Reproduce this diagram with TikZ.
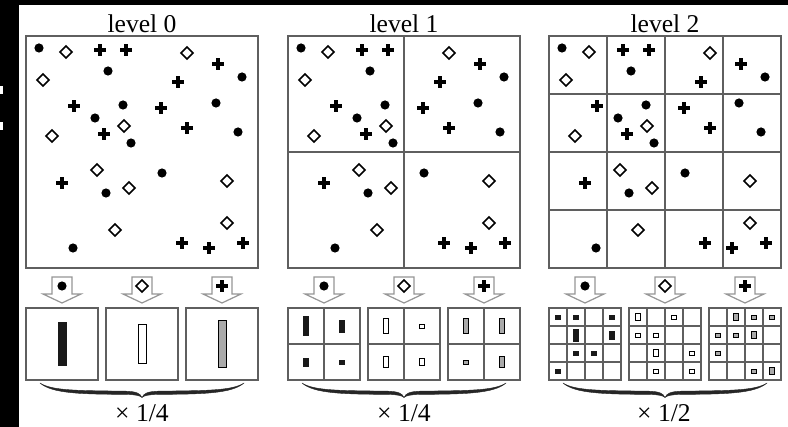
\documentclass[tikz,border=0pt]{standalone}
\usepackage{fontspec}
\setmainfont{Liberation Serif}
\definecolor{framegray}{RGB}{95,95,95}
\definecolor{bargray}{RGB}{170,170,170}
\definecolor{arrowgray}{RGB}{150,150,150}

% point sets, measured from the top-left corner of a level box
\def\dotpts{13/12,82/35,216/41,97/69,69/82,190/67,212/96,105/107,136/137,80/157,47/212}
\def\diapts{40/16,161/17,17/44,98/90,26/100,71/134,103/152,201/145,201/187,89/194}
\def\pluspts{74/14,100/14,192/28,152/46,48/70,135/72,161/92,78/98,36/147,156/207,183/212,217/207}

\tikzset{
  dotpt/.pic={\fill[black] (0,0) circle (2.3pt);},
  diapt/.pic={\draw[black,line width=0.75pt] (-3pt,0)--(0,3pt)--(3pt,0)--(0,-3pt)--cycle;},
  pluspt/.pic={\draw[black,line width=1.55pt] (-2.9pt,0)--(2.9pt,0) (0,-2.9pt)--(0,2.9pt);},
  frame/.style={draw=framegray,line width=0.6pt},
  dotbar/.style={draw=black!90,fill=black!90,line width=0.3pt},
  diabar/.style={draw=black,fill=white,line width=0.4pt},
  plusbar/.style={draw=black,fill=bargray,line width=0.4pt},
  blockarrow/.style={draw=arrowgray,fill=white,line width=0.6pt,line join=miter},
  levelbrace/.style={fill=black!85,draw=black!85,line width=0.2pt},
  title/.style={font=\fontsize{12.8}{15}\selectfont,anchor=base,inner sep=0pt}
}

% box with k x k cells: left, top, size, k, style
\newcommand\gridbox[5]{%
  \path[#5] (#1,#2) rectangle ++(#3,#3);
  \ifnum#4>1
    \pgfmathtruncatemacro\glast{#4-1}
    \foreach \g in {1,...,\glast}{
      \path[#5] ({#1+\g*#3/#4},#2) -- ++(0,#3);
      \path[#5] (#1,{#2+\g*#3/#4}) -- ++(#3,0);
    }
  \fi
}
% bars of a histogram box: left, k, bar width, style, counts (row by row)
\newcommand\histbars[5]{%
  \foreach \n [count=\i from 0] in {#5}{
    \pgfmathtruncatemacro\hcol{mod(\i,#2)}
    \pgfmathtruncatemacro\hrow{div(\i,#2)}
    \ifnum\n>0
      \path[#4] ({#1+(\hcol+0.5)*72/#2-#3/2},{308+(\hrow+0.5)*72/#2-1.95*\n}) rectangle ++(#3,{3.9*\n});
    \fi
  }
}
% hollow arrow with a symbol: centre x, pic
\newcommand\symarrow[2]{%
  \path[blockarrow] (#1-10,277) -- (#1+10,277) -- (#1+10,294) -- (#1+19,294)
    -- (#1,303) -- (#1-19,294) -- (#1-10,294) -- cycle;
  \pic at (#1,286) {#2};
}
% tapered brace under a level: left end, right end
\newcommand\weightbrace[2]{%
  \pgfmathsetmacro\bm{(#1+#2)/2}
  \path[levelbrace] (#1,383) .. controls (#1+12,391) and (#1+40,390.5) .. (\bm-16,391.2)
    .. controls (\bm-6,391.6) and (\bm-2,393) .. (\bm,397.5)
    .. controls (\bm+2,393) and (\bm+6,391.6) .. (\bm+16,391.2)
    .. controls (#2-40,390.5) and (#2-12,391) .. (#2,383)
    .. controls (#2-12,393.5) and (#2-40,394.2) .. (\bm+16,394.4)
    .. controls (\bm+7,394.6) and (\bm+2,395.5) .. (\bm,397.5)
    .. controls (\bm-2,395.5) and (\bm-7,394.6) .. (\bm-16,394.4)
    .. controls (#1+40,394.2) and (#1+12,393.5) .. (#1,383) -- cycle;
}

\begin{document}
\begin{tikzpicture}[x=0.5pt,y=-0.5pt]
  \useasboundingbox (0,0) rectangle (788,427);
  \fill[black] (0,0) rectangle (788,427);
  \fill[white] (19,5) rectangle (788,427);
  \fill[white] (0,86) rectangle (2.7,94);
  \fill[white] (0,122) rectangle (2.7,130);

  % the three levels of the point set
  \foreach \bx/\k in {26/1,288/2,549/4}{
    \gridbox{\bx}{36}{232}{\k}{frame}
    \foreach \px/\py in \dotpts {\pic at (\bx+\px,36+\py) {dotpt};}
    \foreach \px/\py in \diapts {\pic at (\bx+\px,36+\py) {diapt};}
    \foreach \px/\py in \pluspts {\pic at (\bx+\px,36+\py) {pluspt};}
    \symarrow{\bx+36}{dotpt}
    \symarrow{\bx+116}{diapt}
    \symarrow{\bx+196}{pluspt}
    \foreach \hx in {0,80,160} {\gridbox{\bx+\hx}{308}{72}{\k}{frame}}
    \weightbrace{\bx+14}{\bx+218}
  }
  \node[title] (title0) at (142,33) {level 0};
  \node[title] (title1) at (404,33) {level 1};
  \node[title] (title2) at (665,33) {level 2};

  % histograms
  \histbars{26}{1}{8}{dotbar}{11}
  \histbars{106}{1}{8}{diabar}{10}
  \histbars{186}{1}{8}{plusbar}{12}
  \histbars{288}{2}{4.5}{dotbar}{5,3,2,1}
  \histbars{368}{2}{4.5}{diabar}{4,1,3,2}
  \histbars{448}{2}{4.5}{plusbar}{4,4,1,3}
  \histbars{549}{4}{4.5}{dotbar}{1,1,0,1, 0,3,0,2, 0,1,1,0, 1,0,0,0}
  \histbars{629}{4}{4.5}{diabar}{2,0,1,0, 1,1,0,0, 0,2,0,1, 0,1,0,1}
  \histbars{709}{4}{4.5}{plusbar}{0,2,1,1, 1,1,2,0, 1,0,0,0, 0,0,1,2}

  % weights
  \node[title] (weight0) at (142,422) {× 1/4};
  \node[title] (weight1) at (404,422) {× 1/4};
  \node[title] (weight2) at (664,422) {× 1/2};
\end{tikzpicture}
\end{document}
